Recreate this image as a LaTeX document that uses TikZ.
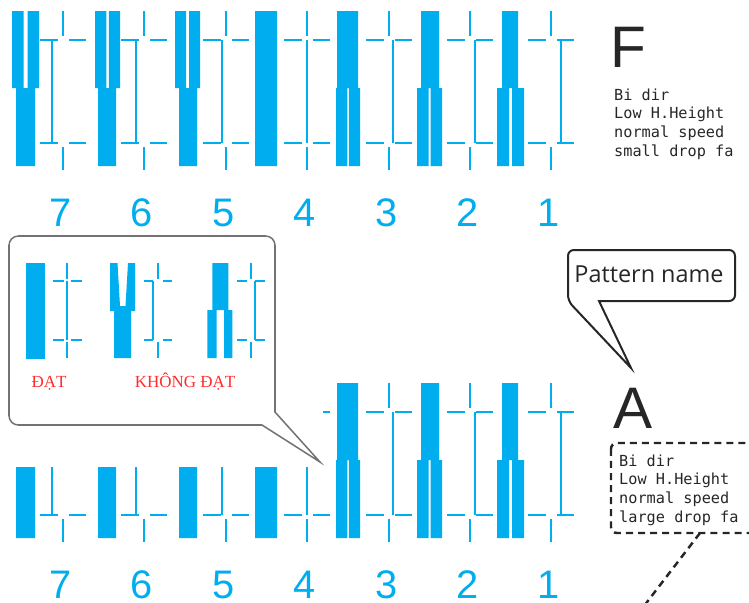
\documentclass[tikz,border=0pt]{standalone}
\usepackage{fontspec}
\setmonofont{DejaVu Sans Mono}
\newfontfamily\digitfont{Liberation Sans}
\newfontfamily\verdictfont{Liberation Serif}
\newfontfamily\calloutfont{Open Sans}
\definecolor{nozzle}{HTML}{00AEEF}
\definecolor{verdict}{HTML}{FF2B2B}
\definecolor{ink}{HTML}{262626}

% one row of the nozzle check, #1 = vertical shift
\newcommand\nozzlerow[1]{%
  \foreach \n/\X/\off/\tL/\tR/\tG/\bL/\bR/\bG in
      {7/63/-11/-51/-24/4/-47/-28/0, 6/144/-8/-49/-24/2.5/-46/-28/0,
       5/226/-4/-51/-26/3/-47/-29/0, 4/307/0/-52/-30/0/-52/-30/0,
       3/389/4/-52/-31/0/-53/-29/1.5, 2/470/5/-49/-31/0/-53/-28/2,
       1/551/10/-49/-33/0/-54/-27/3}{
    \pgfmathsetmacro\tM{(\tL+\tR)/2}
    \pgfmathsetmacro\bM{(\bL+\bR)/2}
    \fill[nozzle] (\X+\tL,#1+11) rectangle (\X+\tM-\tG/2,#1+88)
                  (\X+\tM+\tG/2,#1+11) rectangle (\X+\tR,#1+88)
                  (\X+\bL,#1+88) rectangle (\X+\bM-\bG/2,#1+166)
                  (\X+\bM+\bG/2,#1+88) rectangle (\X+\bR,#1+166);
    \draw[mark line] (\X,#1+11) -- (\X,#1+36)
      (\X-23,#1+40) -- (\X-5,#1+40) (\X+6,#1+40) -- (\X+23,#1+40)
      (\X+\off,#1+40) -- (\X+\off,#1+143)
      (\X-23,#1+143) -- (\X-5,#1+143) (\X+6,#1+143) -- (\X+23,#1+143)
      (\X,#1+147) -- (\X,#1+170);
  }}

\begin{document}
\begin{tikzpicture}[x=0.03cm,y=-0.03cm,
    mark line/.style={nozzle,line width=2.2pt},
    mini line/.style={nozzle,line width=1.7pt},
    digit/.style={text=nozzle,inner sep=0pt,font=\digitfont\fontsize{34}{34}\selectfont},
    big letter/.style={text=ink,inner sep=0pt,anchor=base west,
      font=\digitfont\fontsize{50}{50}\selectfont},
    settings/.style={text=ink,inner sep=0pt,align=left,anchor=base west,
      font=\ttfamily\fontsize{13}{15.9}\selectfont},
    verdict/.style={text=verdict,inner sep=0pt,anchor=base,
      font=\verdictfont\fontsize{14.5}{14.5}\selectfont},
    bubble/.style={draw=black!55,line width=1.3pt},
    pointer box/.style={draw=ink,line width=1.7pt},
    dashed frame/.style={draw=ink,line width=2.1pt,dash pattern=on 6pt off 4.3pt}]
  \useasboundingbox (0,0) rectangle (749,602);

  % upper row, pattern F
  \nozzlerow{0}
  \node[big letter] (nameF) at (610,67) {F};
  \node[settings] (infoF) at (614,156) {Bi dir\\Low H.Height\\normal speed\\small drop fa};

  % lower row, pattern A (its left half sits behind the bubble)
  \begin{scope}
    \clip (0,467) -- (323,467) -- (323,370) -- (749,370) -- (749,602) -- (0,602) -- cycle;
    \nozzlerow{372}
  \end{scope}
  \foreach \n/\X in {7/61,6/142,5/224,4/305,3/387,2/468,1/549}{
    \node[digit] (top-\n) at (\X,213) {\n};
    \node[digit] (bot-\n) at (\X,585) {\n};
  }
  \node[big letter] (nameA) at (613,428) {A};
  \node[settings] (infoA) at (619,522) {Bi dir\\Low H.Height\\normal speed\\large drop fa};
  \draw[dashed frame,rounded corners=5pt] (611,443) rectangle (770,533);
  \coordinate (boxfoot) at (700,533);
  \coordinate (tail) at (644,606);
  \draw[dashed frame] (boxfoot) -- (tail);

  % pattern name callout
  \coordinate (ptip) at (631,368);
  \node[text=ink,inner sep=0pt,anchor=base,font=\calloutfont\fontsize{20}{20}\selectfont]
    (pname) at (649,282) {Pattern name};
  \draw[pointer box] (599,301) [rounded corners=5pt] -- (735,301) -- (735,250)
    -- (568,250) -- (568,301) [sharp corners] -- (ptip) -- cycle;

  % bubble with good / bad examples
  \coordinate (btip) at (320,462);
  \draw[bubble] (275,412) [rounded corners=8pt] -- (275,236) -- (9,236) -- (9,425)
    [sharp corners] -- (262,425) -- (btip) -- cycle;
  \fill[nozzle] (26,263) rectangle (45,359);
  \draw[mini line] (67,263) -- (67,279) (53,281) -- (64,281) (71,281) -- (82,281)
    (67,281) -- (67,340) (53,340) -- (64,340) (71,340) -- (82,340) (67,342) -- (67,358);
  \fill[nozzle] (110,263) -- (117.5,263) -- (120,306) -- (125.5,306) -- (128,263)
    -- (135,263) -- (135,311) -- (131,311) -- (131,358) -- (114,358) -- (114,311)
    -- (110,311) -- cycle;
  \draw[mini line] (158,263) -- (158,279) (144,281) -- (152.7,281) (163.3,281) -- (172,281)
    (152.7,281) -- (152.7,340) (144,340) -- (152.7,340) (163.3,340) -- (172,340)
    (158,342) -- (158,358);
  \fill[nozzle] (212.3,263) rectangle (228.3,310) (207.3,310) rectangle (216.7,358)
    (224,310) rectangle (232.3,358);
  \draw[mini line] (250.7,263) -- (250.7,279) (236.7,281) -- (246.7,281) (255,281) -- (265,281)
    (255,281) -- (255,340) (236.7,340) -- (246.7,340) (255,340) -- (265,340)
    (250.7,342) -- (250.7,358);
  \node[verdict] (pass) at (49,387.5) {ĐẠT};
  \node[verdict] (fail) at (185,387.5) {KHÔNG ĐẠT};
\end{tikzpicture}
\end{document}
